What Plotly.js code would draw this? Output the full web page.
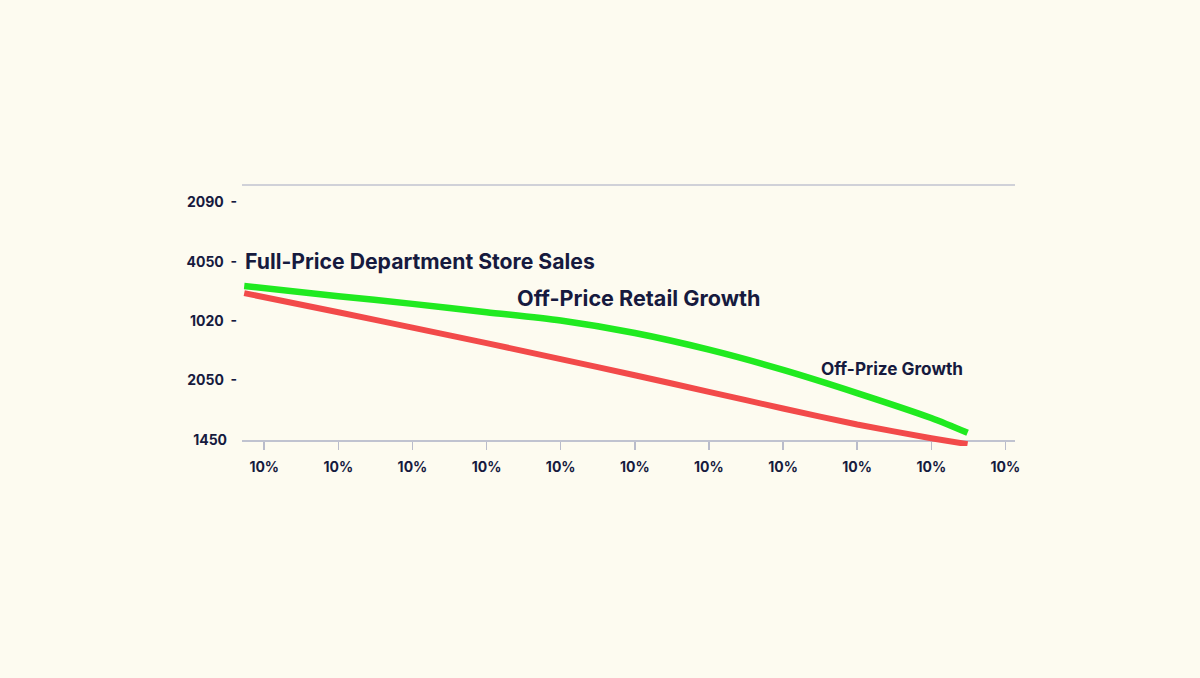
<!DOCTYPE html>
<html>
<head>
<meta charset="utf-8">
<script src="https://cdn.plot.ly/plotly-3.0.1.min.js"></script>
<style>
  html, body { margin: 0; padding: 0; background: #fdfbf0; }
  #chart { width: 1200px; height: 678px; }
</style>
</head>
<body>
<div id="chart"></div>
<script>
// x positions (tick index) and series values
const xPos = [-0.27, 1, 2, 3, 4, 5, 6, 7, 8, 9, 9.49];
const offPrice = [2.59, 2.42, 2.29, 2.15, 2.01, 1.80, 1.52, 1.18, 0.79, 0.37, 0.12];
const fullPrice = [2.47, 2.15, 1.89, 1.63, 1.36, 1.09, 0.81, 0.53, 0.26, 0.03, -0.07];

const xTickVals = [0, 1, 2, 3, 4, 5, 6, 7, 8, 9, 10];
const xTickText = ['10%', '10%', '10%', '10%', '10%', '10%', '10%', '10%', '10%', '10%', '10%'];
const yTickVals = [0, 1, 2, 3, 4];
const yTickText = ['1450\u00a0\u00a0\u00a0', '2050 \u00a0-', '1020 \u00a0-', '4050 \u00a0-', '2090 \u00a0-'];

const navy = '#161a3e';
const font = 'Inter, Roboto, "DejaVu Sans", sans-serif';

const traces = [
  {
    x: xPos,
    y: fullPrice,
    type: 'scatter',
    mode: 'lines',
    line: { color: '#f24a4a', width: 6, shape: 'spline', smoothing: 0.5 },
    name: 'Full-Price Department Store Sales'
  },
  {
    x: xPos,
    y: offPrice,
    type: 'scatter',
    mode: 'lines',
    line: { color: '#20ea20', width: 6.5, shape: 'spline', smoothing: 0.8 },
    name: 'Off-Price Retail Growth'
  }
];

// plot area runs a little below the x axis so the red line end is not cut
const layout = {
  width: 1200,
  height: 678,
  paper_bgcolor: '#fdfbf0',
  plot_bgcolor: '#fdfbf0',
  showlegend: false,
  margin: { l: 242, r: 185, t: 185, b: 232 },
  font: { family: font, color: navy },
  xaxis: {
    range: [-0.3, 10.13],
    anchor: 'free',
    position: 6 / 261,
    layer: 'below traces',
    tickvals: xTickVals,
    ticktext: xTickText,
    ticks: 'outside',
    ticklen: 8,
    tickcolor: '#b9bccb',
    tickwidth: 1.5,
    ticklabelstandoff: 6,
    tickfont: { family: font, size: 14, color: navy, weight: 700 },
    showgrid: false,
    zeroline: false,
    showline: true,
    linecolor: '#c0c3d0',
    linewidth: 1.5
  },
  yaxis: {
    range: [-0.101, 4.29],
    tickvals: yTickVals,
    ticktext: yTickText,
    ticks: '',
    ticklabelstandoff: 4,
    tickfont: { family: font, size: 14, color: navy, weight: 700 },
    showgrid: false,
    zeroline: false,
    showline: false
  },
  shapes: [
    {
      type: 'line', xref: 'paper', yref: 'paper',
      x0: 0, x1: 1, y0: 1, y1: 1,
      line: { color: '#c0c3d0', width: 1.5 }
    }
  ],
  annotations: [
    {
      text: 'Full-Price Department Store Sales',
      x: -0.28, y: 3.01, xref: 'x', yref: 'y',
      xanchor: 'left', yanchor: 'middle', showarrow: false,
      font: { family: font, size: 21.2, color: navy, weight: 700 }
    },
    {
      text: 'Off-Price Retail Growth',
      x: 3.39, y: 2.39, xref: 'x', yref: 'y',
      xanchor: 'left', yanchor: 'middle', showarrow: false,
      font: { family: font, size: 21.6, color: navy, weight: 700 }
    },
    {
      text: 'Off-Prize Growth',
      x: 7.49, y: 1.21, xref: 'x', yref: 'y',
      xanchor: 'left', yanchor: 'middle', showarrow: false,
      font: { family: font, size: 17.2, color: navy, weight: 700 }
    }
  ]
};

Plotly.newPlot('chart', traces, layout, { displayModeBar: false, staticPlot: true });
</script>
</body>
</html>
